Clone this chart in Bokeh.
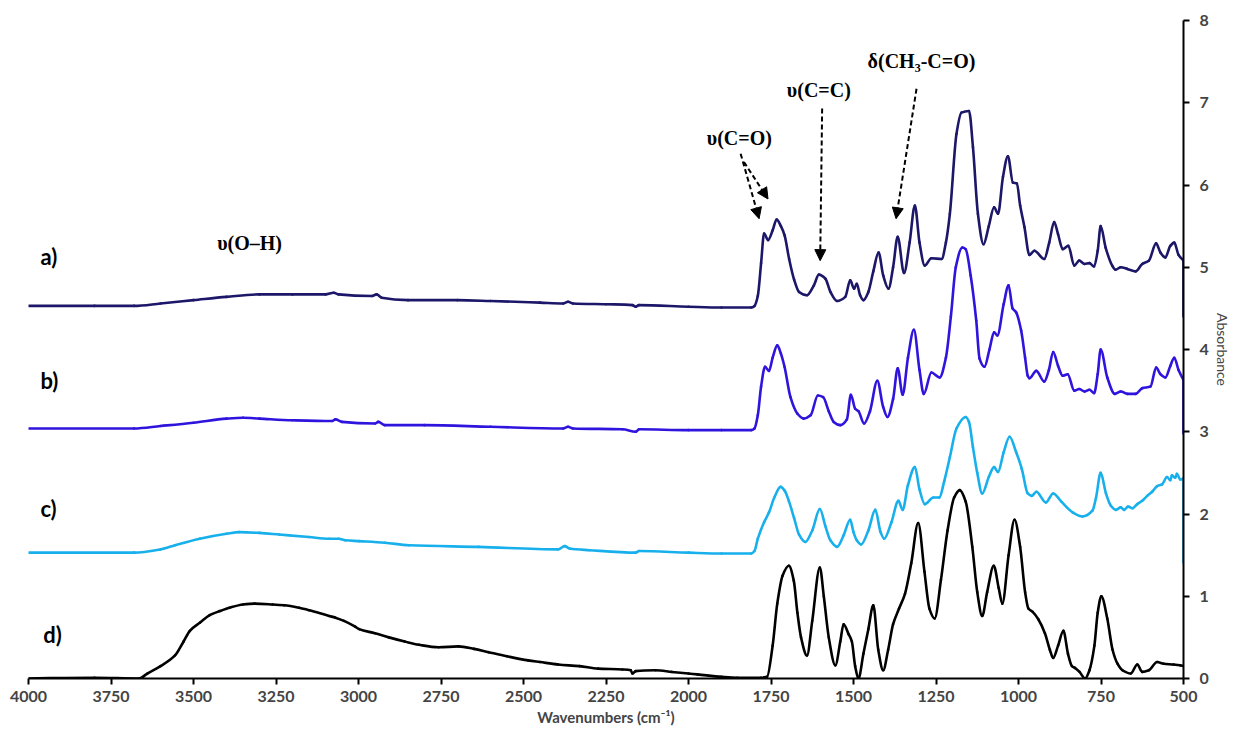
import numpy as np
from bokeh.plotting import figure
from bokeh.models import Range1d, LinearAxis, FixedTicker, Arrow, NormalHead
from bokeh.core.properties import value
from bokeh.embed import file_html
from bokeh.resources import INLINE

# ---- spectra: wavenumber (cm-1) and absorbance (offset traces) ----
wn_a = [4000, 3800, 3680, 3600, 3500, 3400, 3300, 3200, 3100, 3075, 3060, 2960, 2945, 2930, 2850, 2700,
        2600, 2450, 2380, 2365, 2350, 2250, 2170, 2160, 2150, 2000, 1900, 1810, 1800, 1790, 1780, 1771,
        1759, 1745, 1733, 1720, 1709, 1695, 1680, 1665, 1641, 1620, 1605, 1585, 1570, 1550, 1525, 1510,
        1498, 1490, 1480, 1470, 1455, 1440, 1424, 1410, 1394, 1380, 1366, 1347, 1330, 1314, 1300, 1284,
        1264, 1233, 1220, 1208, 1188, 1173, 1150, 1138, 1123, 1106, 1090, 1074, 1062, 1047, 1032, 1017,
        1005, 995, 982, 967, 952, 922, 907, 892, 880, 866, 849, 831, 816, 800, 785, 771, 760, 751, 736,
        716, 706, 690, 670, 645, 625, 605, 583, 570, 555, 540, 528, 515, 500, 500]
abs_a = [4.53, 4.53, 4.53, 4.56, 4.60, 4.64, 4.67, 4.67, 4.67, 4.69, 4.67, 4.65, 4.67, 4.63, 4.60, 4.60,
         4.59, 4.57, 4.56, 4.58, 4.56, 4.55, 4.54, 4.52, 4.54, 4.52, 4.51, 4.51, 4.53, 4.65, 5.05, 5.41,
         5.33, 5.45, 5.58, 5.50, 5.39, 5.10, 4.85, 4.70, 4.66, 4.78, 4.91, 4.86, 4.70, 4.59, 4.64, 4.84,
         4.74, 4.80, 4.66, 4.60, 4.70, 4.95, 5.18, 4.90, 4.74, 5.00, 5.37, 4.93, 5.30, 5.75, 5.30, 5.02,
         5.11, 5.10, 5.30, 5.65, 6.62, 6.88, 6.90, 6.46, 5.65, 5.28, 5.50, 5.73, 5.65, 6.10, 6.35, 6.03,
         6.02, 5.75, 5.49, 5.15, 5.20, 5.10, 5.30, 5.55, 5.40, 5.22, 5.26, 5.02, 5.08, 5.04, 5.05, 5.01,
         5.20, 5.50, 5.24, 5.02, 4.97, 5.00, 4.98, 4.95, 5.04, 5.08, 5.29, 5.18, 5.12, 5.26, 5.30, 5.15,
         5.08, 4.40]

wn_b = [4000, 3680, 3600, 3500, 3400, 3350, 3300, 3200, 3080, 3070, 3050, 2950, 2940, 2920, 2800, 2600,
        2380, 2365, 2350, 2200, 2160, 2150, 2000, 1900, 1810, 1800, 1790, 1780, 1768, 1756, 1745, 1731,
        1720, 1709, 1691, 1670, 1651, 1630, 1608, 1592, 1575, 1560, 1540, 1520, 1508, 1495, 1485, 1468,
        1450, 1428, 1410, 1397, 1380, 1366, 1351, 1335, 1317, 1300, 1287, 1264, 1239, 1220, 1205, 1190,
        1170, 1160, 1145, 1128, 1118, 1103, 1088, 1074, 1064, 1045, 1030, 1018, 1007, 992, 980, 972, 967,
        946, 922, 908, 895, 880, 866, 851, 831, 816, 800, 785, 771, 760, 751, 731, 708, 690, 670, 645,
        625, 600, 583, 570, 555, 540, 528, 515, 500, 500]
abs_b = [3.04, 3.04, 3.07, 3.11, 3.16, 3.17, 3.16, 3.14, 3.13, 3.15, 3.12, 3.10, 3.12, 3.08, 3.08, 3.06,
         3.04, 3.06, 3.04, 3.03, 3.00, 3.03, 3.02, 3.02, 3.02, 3.04, 3.20, 3.55, 3.79, 3.74, 3.90, 4.05,
         3.95, 3.79, 3.42, 3.22, 3.16, 3.20, 3.44, 3.42, 3.25, 3.12, 3.08, 3.15, 3.45, 3.28, 3.25, 3.10,
         3.25, 3.62, 3.30, 3.18, 3.40, 3.77, 3.45, 3.90, 4.24, 3.75, 3.46, 3.72, 3.66, 3.90, 4.40, 5.00,
         5.24, 5.22, 4.90, 4.35, 3.89, 3.79, 4.00, 4.21, 4.17, 4.55, 4.78, 4.50, 4.45, 4.23, 3.90, 3.68,
         3.65, 3.74, 3.61, 3.75, 3.97, 3.80, 3.68, 3.70, 3.50, 3.52, 3.49, 3.51, 3.47, 3.70, 4.00, 3.66,
         3.46, 3.49, 3.46, 3.46, 3.53, 3.55, 3.78, 3.70, 3.66, 3.80, 3.90, 3.75, 3.63, 2.98]

wn_c = [4000, 3680, 3600, 3556, 3481, 3400, 3361, 3300, 3240, 3150, 3089, 3060, 3040, 2998, 2920, 2847,
        2636, 2395, 2375, 2360, 2300, 2160, 2150, 2000, 1900, 1810, 1800, 1790, 1771, 1756, 1740, 1721,
        1708, 1696, 1680, 1665, 1646, 1625, 1602, 1585, 1570, 1550, 1530, 1510, 1500, 1490, 1477, 1455,
        1434, 1418, 1407, 1385, 1364, 1351, 1335, 1314, 1300, 1284, 1258, 1240, 1225, 1208, 1188, 1160,
        1150, 1138, 1125, 1110, 1090, 1074, 1062, 1045, 1027, 1007, 990, 972, 960, 946, 917, 895, 870,
        836, 806, 776, 765, 751, 735, 720, 705, 690, 680, 668, 655, 640, 625, 610, 595, 580, 565, 550,
        540, 535, 525, 520, 510, 500, 500]
abs_c = [1.53, 1.53, 1.57, 1.62, 1.70, 1.76, 1.78, 1.77, 1.75, 1.72, 1.70, 1.70, 1.68, 1.67, 1.65, 1.62,
         1.60, 1.57, 1.61, 1.58, 1.56, 1.53, 1.55, 1.53, 1.52, 1.52, 1.55, 1.70, 1.90, 2.02, 2.20, 2.33,
         2.28, 2.16, 1.95, 1.75, 1.66, 1.80, 2.06, 1.85, 1.68, 1.60, 1.74, 1.93, 1.78, 1.68, 1.63, 1.80,
         2.05, 1.78, 1.70, 1.90, 2.16, 2.05, 2.35, 2.57, 2.30, 2.12, 2.20, 2.20, 2.40, 2.69, 3.04, 3.18,
         3.12, 2.81, 2.50, 2.25, 2.45, 2.57, 2.51, 2.75, 2.94, 2.75, 2.55, 2.25, 2.22, 2.27, 2.14, 2.25,
         2.15, 2.02, 1.97, 2.04, 2.20, 2.50, 2.25, 2.10, 2.05, 2.08, 2.05, 2.09, 2.07, 2.12, 2.16, 2.22,
         2.27, 2.34, 2.36, 2.45, 2.41, 2.47, 2.44, 2.49, 2.42, 2.43, 1.41]

wn_d = [4000, 3800, 3665, 3640, 3600, 3556, 3530, 3511, 3480, 3451, 3420, 3391, 3350, 3315, 3260, 3225,
        3180, 3149, 3089, 3070, 3044, 3010, 2998, 2950, 2908, 2860, 2817, 2757, 2697, 2650, 2606, 2550,
        2486, 2450, 2395, 2330, 2274, 2200, 2175, 2170, 2160, 2100, 2050, 2000, 1973, 1900, 1852, 1780,
        1762, 1745, 1731, 1715, 1696, 1681, 1670, 1659, 1641, 1625, 1602, 1590, 1575, 1555, 1540, 1530,
        1515, 1505, 1495, 1485, 1470, 1455, 1440, 1425, 1410, 1395, 1380, 1362, 1344, 1325, 1304, 1285,
        1270, 1254, 1235, 1215, 1195, 1178, 1160, 1140, 1125, 1110, 1095, 1075, 1060, 1049, 1030, 1012,
        995, 980, 970, 957, 940, 920, 905, 895, 880, 864, 850, 838, 829, 815, 798, 785, 770, 760, 749,
        731, 715, 700, 685, 660, 640, 625, 605, 580, 560, 530, 510, 500]
abs_d = [0.00, 0.01, 0.00, 0.06, 0.15, 0.28, 0.45, 0.58, 0.68, 0.77, 0.82, 0.86, 0.90, 0.91, 0.90, 0.89,
         0.86, 0.83, 0.76, 0.74, 0.70, 0.63, 0.60, 0.55, 0.50, 0.45, 0.41, 0.38, 0.39, 0.36, 0.32, 0.27,
         0.22, 0.20, 0.17, 0.15, 0.12, 0.11, 0.10, 0.06, 0.09, 0.10, 0.08, 0.06, 0.05, 0.02, 0.01, 0.01,
         0.02, 0.40, 0.91, 1.25, 1.37, 1.19, 0.80, 0.50, 0.28, 0.70, 1.35, 1.00, 0.50, 0.16, 0.45, 0.66,
         0.54, 0.45, 0.15, 0.00, 0.30, 0.60, 0.89, 0.35, 0.10, 0.35, 0.66, 0.85, 1.03, 1.40, 1.89, 1.30,
         0.85, 0.73, 1.20, 1.80, 2.20, 2.29, 2.15, 1.60, 1.05, 0.76, 1.05, 1.37, 1.10, 0.91, 1.50, 1.93,
         1.60, 1.05, 0.85, 0.81, 0.72, 0.55, 0.35, 0.25, 0.40, 0.58, 0.30, 0.15, 0.13, 0.08, 0.00, 0.10,
         0.40, 0.80, 1.00, 0.73, 0.35, 0.18, 0.10, 0.06, 0.17, 0.08, 0.10, 0.20, 0.18, 0.17, 0.16, 0.15]

trace_colors = ["#1c1769", "#2f14dd", "#18b0ec", "#000000"]

# ---- trace labels and band assignments ----
trace_labels = ["a)", "b)", "c)", "d)"]
trace_label_x = [3964, 3964, 3964, 3955]
trace_label_y = [5.13, 3.62, 2.07, 0.53]

band_labels = ["\u03c5(O\u2013H)", "\u03c5(C=O)", "\u03c5(C=C)", "\u03b4(CH\u2083-C=O)"]
band_x = [3330, 1846, 1605, 1294]
band_y = [5.29, 6.57, 7.15, 7.51]

# arrows: (start wn, start abs, end wn, end abs)
arrow_x0 = [1842, 1832, 1595, 1309]
arrow_y0 = [6.38, 6.28, 6.93, 7.17]
arrow_x1 = [1786, 1759, 1601, 1371]
arrow_y1 = [5.59, 5.83, 5.08, 5.59]

x_ticks = list(range(500, 4001, 250))
y_ticks = list(range(0, 9))


def smooth_segments(xs, ys):
    """Cubic Bezier segments through the points (monotone Hermite tangents)."""
    x = np.asarray(xs, float)
    y = np.asarray(ys, float)
    n = len(x)
    h = np.diff(x)
    dy = np.diff(y)
    d = np.where(h != 0, dy / np.where(h == 0, 1, h), 0.0)
    m = np.zeros(n)
    for k in range(n):
        left = k - 1 if k > 0 and h[k - 1] != 0 else None
        right = k if k < n - 1 and h[k] != 0 else None
        if left is None and right is None:
            continue
        if left is None:
            m[k] = d[right]
        elif right is None:
            m[k] = d[left]
        else:
            d0, d1 = d[left], d[right]
            if d0 * d1 <= 0:
                m[k] = 0.0
            else:
                w1 = 2 * h[right] + h[left]
                w2 = h[right] + 2 * h[left]
                m[k] = (w1 + w2) / (w1 / d0 + w2 / d1)
    x0, y0, x1, y1 = x[:-1], y[:-1], x[1:], y[1:]
    cx0 = x0 + h / 3
    cy0 = y0 + m[:-1] * h / 3
    cx1 = x1 - h / 3
    cy1 = y1 - m[1:] * h / 3
    return dict(x0=x0, y0=y0, x1=x1, y1=y1, cx0=cx0, cy0=cy0, cx1=cx1, cy1=cy1)


p = figure(width=1233, height=734, output_backend="svg", toolbar_location=None,
           x_range=Range1d(4000, 500), y_range=Range1d(0, 8),
           min_border_left=28, min_border_right=45, min_border_top=20, min_border_bottom=56)
p.outline_line_color = None
p.xgrid.grid_line_color = None
p.ygrid.grid_line_color = None
p.yaxis.visible = False
p.background_fill_color = "white"
p.border_fill_color = "white"

for wn, ab, col in zip([wn_a, wn_b, wn_c, wn_d], [abs_a, abs_b, abs_c, abs_d], trace_colors):
    seg = smooth_segments(wn, ab)
    p.bezier(source=seg, x0="x0", y0="y0", x1="x1", y1="y1", cx0="cx0", cy0="cy0",
             cx1="cx1", cy1="cy1", line_color=col, line_width=2.6, line_cap="round")

# bottom axis
xa = p.xaxis[0]
xa.ticker = FixedTicker(ticks=x_ticks)
xa.axis_label = "Wavenumbers (cm\u207b\u00b9)"
xa.axis_label_text_font = "Lato"
xa.axis_label_text_font_style = "bold"
xa.axis_label_text_font_size = "15px"
xa.axis_label_standoff = 3
xa.major_label_text_font = "Lato"
xa.major_label_text_font_style = "bold"
xa.major_label_text_font_size = "16px"
xa.major_label_standoff = 6
xa.axis_line_width = 2
xa.axis_line_color = "black"
xa.major_tick_line_width = 2
xa.major_tick_in = 0
xa.major_tick_out = 6
xa.minor_tick_line_color = None

# right axis
ya = LinearAxis(ticker=FixedTicker(ticks=y_ticks))
ya.axis_label = "Absorbance"
ya.axis_label_text_font = "Lato"
ya.axis_label_text_font_style = "normal"
ya.axis_label_text_font_size = "14px"
ya.axis_label_standoff = 2
ya.major_label_text_font = "Lato"
ya.major_label_text_font_style = "bold"
ya.major_label_text_font_size = "16px"
ya.major_label_standoff = 10
ya.axis_line_width = 2
ya.major_tick_line_width = 2
ya.major_tick_in = 0
ya.major_tick_out = 6
ya.minor_tick_line_color = None
p.add_layout(ya, "right")

p.text(x=trace_label_x, y=trace_label_y, text=trace_labels, text_font=value("Lato"),
       text_font_style="bold", text_font_size="22px", text_align="left", text_baseline="middle",
       text_color="black")

p.text(x=band_x, y=band_y, text=band_labels, text_font=value("Liberation Serif"),
       text_font_style="bold", text_font_size="20px", text_align="center", text_baseline="middle",
       text_color="black")

for x0, y0, x1, y1 in zip(arrow_x0, arrow_y0, arrow_x1, arrow_y1):
    p.add_layout(Arrow(end=NormalHead(size=11, fill_color="black", line_color="black", line_width=1),
                       x_start=x0, y_start=y0, x_end=x1, y_end=y1,
                       line_color="black", line_width=2, line_dash="5 3"))

open("out.html", "w").write(file_html(p, INLINE))
